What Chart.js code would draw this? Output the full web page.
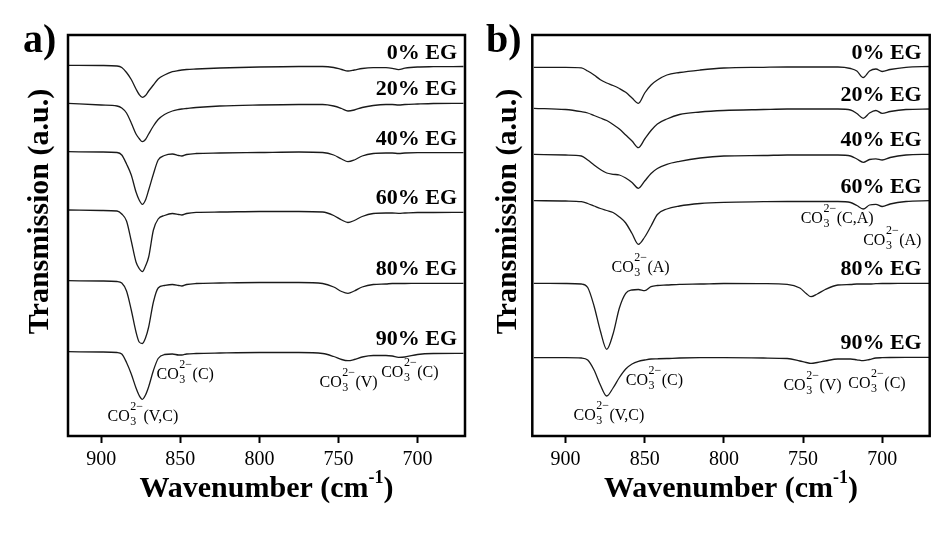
<!DOCTYPE html>
<html>
<head>
<meta charset="utf-8">
<title>FTIR carbonate bands</title>
<script src="https://cdn.jsdelivr.net/npm/chart.js@4.4.0/dist/chart.umd.min.js"></script>
<style>
  body { margin: 0; background: #fff; }
  .wrap { display: flex; width: 938px; height: 540px; }
  .panel { position: relative; width: 469px; height: 540px; }
</style>
</head>
<body>
<div class="wrap">
  <div class="panel"><canvas id="chartA"></canvas></div>
  <div class="panel"><canvas id="chartB"></canvas></div>
</div>
<script>
// sample names, top to bottom
const egLabels = ['0% EG', '20% EG', '40% EG', '60% EG', '80% EG', '90% EG'];
const xTicks = [900, 850, 800, 750, 700];

// panel a) wavenumbers (cm-1) and offset transmission traces
const wnA = [921, 900, 890, 887, 884, 881, 878, 876, 874, 872, 870, 867, 864, 860, 855, 851, 849, 846, 840, 825,
             800, 775, 760, 753, 748, 744, 740, 735, 728, 720, 716, 712, 708, 700, 690, 671];
const a0  = [370.7, 370.5, 370, 368.5, 363.5, 356.5, 347, 341.5, 338.7, 340.5, 345, 351, 357, 361, 364.3, 365.5, 366, 366.5, 367, 368,
             369, 369.5, 369.5, 368.5, 366.5, 365, 366, 367.5, 368.3, 368.3, 367.7, 366.3, 367.8, 369, 369.3, 369.5];
const a20 = [332.7, 331, 330, 328, 323, 313, 302, 297.5, 294.3, 296.5, 302, 310, 316.5, 321.5, 325, 326.5, 327, 327.5, 328.5, 330,
             331, 331.5, 331.5, 330, 327.5, 325, 326, 328.5, 330.5, 331.5, 331.5, 331, 331.5, 332, 332.5, 332.7];
const a40 = [284.3, 284, 283.5, 281, 272, 261, 244, 236, 231.7, 236, 246, 262, 276, 280.5, 282, 280.5, 280, 281.5, 282.5, 283,
             283.5, 284, 283.5, 281, 277, 274.3, 276, 280, 282.5, 283, 283, 282.5, 283, 283.3, 283.3, 283.3];
const a60 = [226, 225.5, 225, 222, 215, 195, 174, 167.5, 164.3, 170, 179, 206, 217, 220.5, 222.5, 221.5, 221, 222.5, 223.7, 224,
             224.5, 224.5, 224, 220.5, 216, 213.5, 215.5, 219.5, 222.5, 223, 223, 222.7, 223, 223.5, 223.5, 223.7];
const a80 = [155.3, 155, 154.5, 153, 145, 126, 104, 94, 92.5, 98, 109, 134, 148, 150.5, 151.5, 150.5, 150, 151.5, 152.5, 153,
             153.5, 153.5, 152.5, 149, 144.5, 142.7, 145, 149, 151.5, 152, 152.5, 152.5, 152.5, 152.7, 152.7, 152.7];
const a90 = [84.3, 84, 83.5, 82, 73.5, 62, 48, 40.5, 36.7, 41, 49.3, 65.5, 77.5, 81.5, 82, 81, 81, 82, 82.5, 83,
             83.5, 83.5, 82.5, 79.5, 76.5, 75.3, 76.5, 79, 80.5, 80.5, 80, 78.7, 79, 81.5, 82.5, 82.7];

// panel b)
const wnB = [920, 900, 890, 886, 882, 878, 874, 870, 866, 862, 858, 854, 850, 846, 842, 836, 828, 815, 800, 775,
             760, 752, 748, 745, 741, 736, 728, 720, 716, 712, 708, 704, 700, 695, 685, 670];
const b0  = [368.7, 368.7, 368.2, 365, 361, 356.3, 353, 350.5, 347.5, 343.7, 338, 332.7, 343, 351, 356, 361, 363.5, 366, 368, 368.7,
             369, 369, 369, 369, 369, 369, 369, 367.5, 365, 358.5, 365, 367, 364.5, 366.5, 368.7, 369.5];
const b20 = [327.7, 326.5, 324.3, 323, 320.5, 318, 315.5, 311.5, 307, 301, 295, 288.3, 297, 305.5, 312, 317, 321.5, 324, 325.5, 326.5,
             327, 327, 327, 327, 327, 327, 327, 326, 322.5, 317.7, 323, 325.5, 322.7, 324.5, 326.5, 327];
const b40 = [281.7, 281, 280, 276, 271, 266.5, 263, 261.7, 261, 258, 253.5, 247.7, 255, 262.5, 267.5, 271.7, 274.7, 278, 280, 280.5,
             281, 281, 281, 281, 281, 281, 281, 280, 277, 273.7, 276.5, 277.2, 276, 278.5, 281, 281.7];
const b60 = [235.3, 235, 234.3, 232.5, 230, 227.5, 225.5, 223.5, 219, 213, 202.5, 191.7, 199, 210, 221.5, 227, 230, 232.5, 233.7, 234.3,
             234.5, 234.5, 234.5, 234.5, 234.5, 234.5, 234.5, 233.5, 230.5, 227, 231, 231.7, 229.5, 232, 234.5, 235.3];
const b80 = [152.7, 152.5, 152, 148.5, 130, 105, 86.7, 102, 128, 142.7, 146, 146.5, 145.3, 149.3, 150.5, 151, 151.7, 152, 152.5, 152.3,
             151.7, 148, 142.5, 139.3, 142, 146.5, 151, 151.5, 152, 152, 152, 152.3, 152.5, 152.5, 152.7, 152.7];
const b90 = [78.3, 78.3, 78, 76, 66, 51, 40, 48, 58.5, 67, 72, 74.7, 76, 77, 77.2, 77.5, 78, 78.3, 78.3, 78,
             77.5, 75, 73.5, 72.7, 73.5, 75, 77, 77, 76.2, 75.3, 76.5, 78, 78.3, 78.5, 78.7, 78.7];

// band assignments: wavenumber / value where the label starts
const notesA = [
  { w: 896, v: 15, tag: '(V,C)' },
  { w: 865, v: 57, tag: '(C)' },
  { w: 762, v: 49, tag: '(V)' },
  { w: 723, v: 59, tag: '(C)' }
];
const notesB = [
  { w: 871, v: 164, tag: '(A)' },
  { w: 751.5, v: 213, tag: '(C,A)' },
  { w: 712, v: 191, tag: '(A)' },
  { w: 895, v: 16, tag: '(V,C)' },
  { w: 862, v: 51, tag: '(C)' },
  { w: 762.4, v: 46, tag: '(V)' },
  { w: 721.4, v: 48, tag: '(C)' }
];

const SERIF = '"Liberation Serif", "Times New Roman", serif';

function drawCarbonate(ctx, px, py, tag) {
  ctx.textAlign = 'left';
  ctx.textBaseline = 'alphabetic';
  ctx.font = '16px ' + SERIF;
  ctx.fillText('CO', px, py);
  const cx = px + ctx.measureText('CO').width + 0.5;
  ctx.font = '12px ' + SERIF;
  ctx.fillText('2\u2212', cx, py - 11);
  ctx.fillText('3', cx, py + 4);
  const w = ctx.measureText('2\u2212').width;
  ctx.font = '16px ' + SERIF;
  ctx.fillText(tag, cx + w + 0.5, py);
}

const decorations = {
  id: 'decorations',
  afterDraw(chart, args, opts) {
    const { ctx, chartArea: ca, scales: { x, y } } = chart;
    ctx.save();
    ctx.fillStyle = '#000';
    ctx.strokeStyle = '#000';

    // frame
    ctx.lineWidth = 2.5;
    ctx.strokeRect(ca.left, ca.top, ca.right - ca.left, ca.bottom - ca.top);

    // sample labels above each trace
    ctx.font = 'bold 22px ' + SERIF;
    ctx.textAlign = 'right';
    ctx.textBaseline = 'alphabetic';
    chart.data.datasets.forEach(ds => {
      const last = ds.data[ds.data.length - 1];
      ctx.fillText(ds.label, ca.right - 8, y.getPixelForValue(last.y) - 8);
    });

    // band assignments
    opts.notes.forEach(n => drawCarbonate(ctx, x.getPixelForValue(n.w), y.getPixelForValue(n.v), n.tag));

    // panel letter
    ctx.font = 'bold 40px ' + SERIF;
    ctx.textAlign = 'left';
    ctx.fillText(opts.panel, opts.panelX, 52);

    // y title
    ctx.save();
    ctx.translate(opts.yTitleX, 211.5);
    ctx.rotate(-Math.PI / 2);
    ctx.font = 'bold 30px ' + SERIF;
    ctx.textAlign = 'center';
    ctx.textBaseline = 'middle';
    ctx.fillText('Transmission (a.u.)', 0, 0);
    ctx.restore();

    // x title with superscript
    ctx.font = 'bold 30px ' + SERIF;
    const t1 = 'Wavenumber (cm', t3 = ')';
    const w1 = ctx.measureText(t1).width, w3 = ctx.measureText(t3).width;
    ctx.font = 'bold 18px ' + SERIF;
    const t2 = '-1';
    const w2 = ctx.measureText(t2).width;
    let sx = (ca.left + ca.right) / 2 - (w1 + w2 + w3) / 2;
    ctx.textAlign = 'left';
    ctx.font = 'bold 30px ' + SERIF;
    ctx.fillText(t1, sx, 497);
    ctx.font = 'bold 18px ' + SERIF;
    ctx.fillText(t2, sx + w1, 483);
    ctx.font = 'bold 30px ' + SERIF;
    ctx.fillText(t3, sx + w1 + w2, 497);
    ctx.restore();
  }
};

function makeChart(id, wn, traces, notes, panel, pad, panelX, yTitleX) {
  const datasets = traces.map((vals, i) => ({
    label: egLabels[i],
    data: wn.map((w, k) => ({ x: w, y: vals[k] })),
    borderColor: '#1a1a1a',
    borderWidth: 1.3,
    pointRadius: 0,
    fill: false,
    cubicInterpolationMode: 'monotone'
  }));
  return new Chart(document.getElementById(id), {
    type: 'line',
    data: { datasets },
    options: {
      responsive: false,
      animation: false,
      devicePixelRatio: 1,
      layout: { padding: pad },
      plugins: {
        legend: { display: false },
        tooltip: { enabled: false },
        decorations: { notes, panel, panelX, yTitleX }
      },
      scales: {
        x: {
          type: 'linear',
          reverse: true,
          min: 670,
          max: 921,
          afterBuildTicks: scale => { scale.ticks = xTicks.map(v => ({ value: v })); },
          afterFit: scale => { scale.height = 104; },
          border: { display: false },
          grid: { drawOnChartArea: false, drawTicks: true, tickLength: 7, tickWidth: 2, color: '#000' },
          ticks: { color: '#000', padding: 5, font: { family: SERIF, size: 20 } }
        },
        y: {
          display: false,
          min: 0,
          max: 401
        }
      }
    },
    plugins: [decorations]
  });
}

['chartA', 'chartB'].forEach(id => {
  const c = document.getElementById(id);
  c.width = 469; c.height = 540;
});

makeChart('chartA', wnA, [a0, a20, a40, a60, a80, a90], notesA, 'a)',
  { left: 68, right: 4, top: 35, bottom: 0 }, 23, 40);
makeChart('chartB', wnB, [b0, b20, b40, b60, b80, b90], notesB, 'b)',
  { left: 63.3, right: 8.3, top: 35, bottom: 0 }, 17, 39);
</script>
</body>
</html>
